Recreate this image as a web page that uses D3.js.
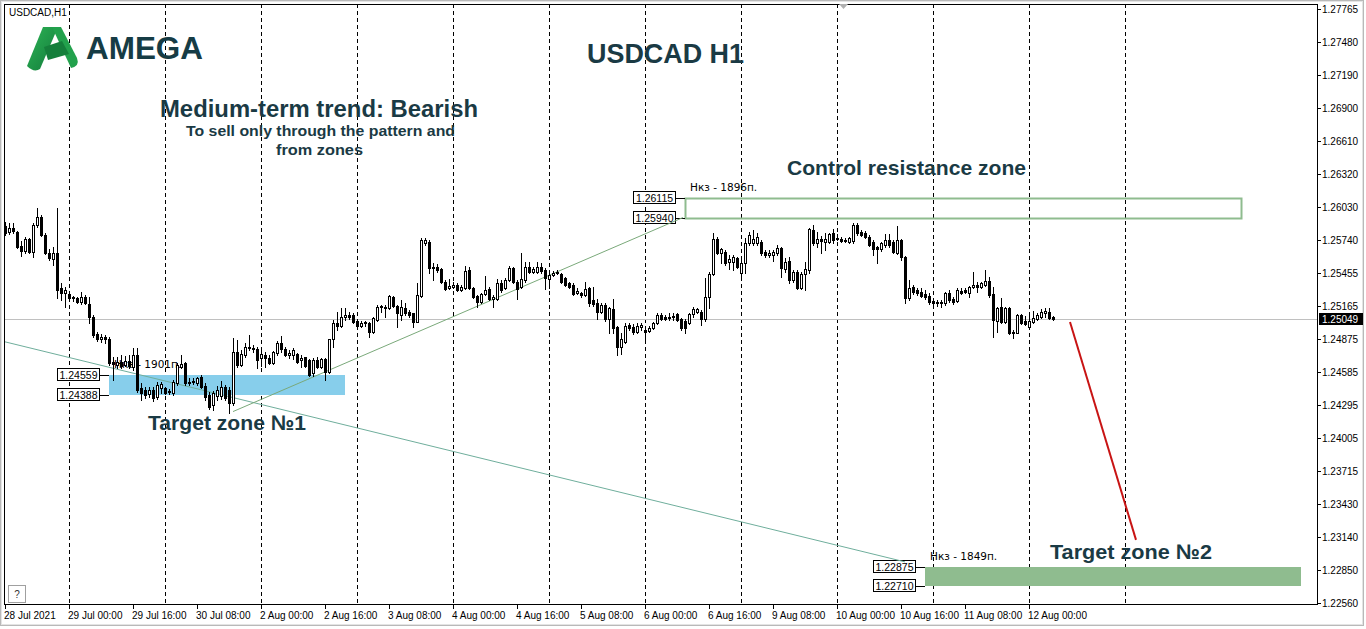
<!DOCTYPE html>
<html><head><meta charset="utf-8">
<script src="https://cdn.jsdelivr.net/npm/d3@7"></script>
<style>
html,body{margin:0;padding:0;background:#fff;}
svg{display:block;}
</style></head>
<body>
<svg id="chart" width="1366" height="629"></svg>
<script>
// ---------------- DATA ----------------
const symbolLabel = "USDCAD,H1";
const days = ["28 Jul","29 Jul","30 Jul","2 Aug","3 Aug","4 Aug","5 Aug","6 Aug","9 Aug","10 Aug","11 Aug","12 Aug"];
const firstHour = 8, lastHour = 6, year = "2021";
const nextDay = "13 Aug";

const open = [
1.25867,1.25814,1.25849,1.25814,1.25692,1.25648,1.25753,1.25639,1.25876,1.25946,
1.25788,1.25630,1.25578,1.25630,1.25324,1.25280,1.25271,1.25236,1.25236,1.25201,
1.25245,1.25183,1.25070,1.24921,1.24877,1.24894,1.24877,1.24675,1.24649,1.24675,
1.24649,1.24684,1.24631,1.24737,1.24447,1.24430,1.24394,1.24430,1.24368,1.24447,
1.24447,1.24412,1.24403,1.24491,1.24631,1.24666,1.24491,1.24500,1.24491,1.24544,
1.24465,1.24386,1.24298,1.24377,1.24377,1.24456,1.24430,1.24316,1.24763,1.24649,
1.24737,1.24807,1.24798,1.24789,1.24710,1.24737,1.24710,1.24666,1.24754,1.24842,
1.24789,1.24737,1.24737,1.24745,1.24693,1.24719,1.24693,1.24579,1.24693,1.24631,
1.24701,1.24587,1.24877,1.25017,1.24991,1.25070,1.25087,1.25087,1.25035,1.24991,
1.25017,1.25017,1.24938,1.25043,1.25157,1.25157,1.25148,1.25245,1.25166,1.25087,
1.25148,1.25113,1.25105,1.25026,1.25254,1.25718,1.25727,1.25499,1.25508,1.25490,
1.25376,1.25324,1.25332,1.25350,1.25306,1.25324,1.25481,1.25324,1.25254,1.25201,
1.25271,1.25315,1.25227,1.25227,1.25367,1.25324,1.25394,1.25499,1.25376,1.25332,
1.25394,1.25508,1.25464,1.25464,1.25508,1.25481,1.25403,1.25438,1.25455,1.25446,
1.25411,1.25367,1.25350,1.25280,1.25280,1.25262,1.25324,1.25219,1.25192,1.25113,
1.25175,1.25052,1.25140,1.24982,1.24807,1.24851,1.25000,1.24982,1.24938,1.24982,
1.24956,1.24947,1.24973,1.25017,1.25087,1.25070,1.25061,1.25070,1.25096,1.25052,
1.25035,1.25017,1.25096,1.25113,1.25113,1.25052,1.25245,1.25446,1.25753,1.25630,
1.25639,1.25551,1.25551,1.25587,1.25455,1.25543,1.25718,1.25718,1.25718,1.25727,
1.25639,1.25613,1.25613,1.25630,1.25674,1.25490,1.25560,1.25394,1.25464,1.25324,
1.25446,1.25481,1.25832,1.25718,1.25753,1.25727,1.25727,1.25806,1.25762,1.25753,
1.25736,1.25727,1.25736,1.25876,1.25814,1.25806,1.25771,1.25727,1.25683,1.25665,
1.25700,1.25744,1.25727,1.25630,1.25744,1.25595,1.25236,1.25332,1.25306,1.25289,
1.25271,1.25254,1.25210,1.25201,1.25201,1.25192,1.25280,1.25227,1.25210,1.25297,
1.25306,1.25280,1.25332,1.25350,1.25332,1.25350,1.25385,1.25271,1.25035,1.25157,
1.25026,1.25148,1.24938,1.24929,1.25087,1.25035,1.24982,1.25026,1.25052,1.25070,
1.25105,1.25113,1.25070];

const high = [
1.25902,1.25893,1.25893,1.25823,1.25736,1.25771,1.25762,1.25893,1.26025,1.25963,
1.25806,1.25665,1.25683,1.26025,1.25367,1.25332,1.25289,1.25254,1.25245,1.25289,
1.25262,1.25245,1.25087,1.24938,1.24921,1.24912,1.24894,1.24719,1.24719,1.24737,
1.24728,1.24737,1.24798,1.24798,1.24491,1.24456,1.24456,1.24456,1.24500,1.24500,
1.24456,1.24438,1.24517,1.24666,1.24737,1.24675,1.24535,1.24535,1.24544,1.24561,
1.24491,1.24412,1.24421,1.24465,1.24508,1.24473,1.24456,1.24886,1.24868,1.24780,
1.24842,1.24912,1.24824,1.24807,1.24780,1.24763,1.24737,1.24772,1.24859,1.24903,
1.24807,1.24780,1.24798,1.24754,1.24737,1.24719,1.24701,1.24710,1.24719,1.24710,
1.24710,1.24877,1.25043,1.25113,1.25148,1.25148,1.25113,1.25105,1.25052,1.25035,
1.25035,1.25026,1.25070,1.25175,1.25175,1.25175,1.25262,1.25254,1.25175,1.25219,
1.25192,1.25131,1.25105,1.25367,1.25762,1.25762,1.25744,1.25543,1.25534,1.25499,
1.25394,1.25403,1.25376,1.25367,1.25350,1.25516,1.25508,1.25332,1.25262,1.25280,
1.25429,1.25332,1.25262,1.25403,1.25394,1.25411,1.25516,1.25508,1.25394,1.25630,
1.25551,1.25551,1.25508,1.25551,1.25543,1.25499,1.25464,1.25473,1.25481,1.25455,
1.25420,1.25376,1.25367,1.25324,1.25289,1.25376,1.25332,1.25332,1.25227,1.25192,
1.25192,1.25157,1.25227,1.24991,1.24929,1.25017,1.25017,1.25008,1.25017,1.25017,
1.24982,1.24991,1.25026,1.25105,1.25105,1.25087,1.25105,1.25105,1.25105,1.25061,
1.25052,1.25105,1.25157,1.25148,1.25131,1.25411,1.25464,1.25806,1.25771,1.25674,
1.25657,1.25613,1.25613,1.25595,1.25569,1.25762,1.25814,1.25832,1.25806,1.25744,
1.25657,1.25657,1.25657,1.25700,1.25683,1.25587,1.25595,1.25481,1.25481,1.25464,
1.25551,1.25849,1.25876,1.25814,1.25779,1.25806,1.25806,1.25841,1.25797,1.25771,
1.25762,1.25771,1.25893,1.25893,1.25832,1.25823,1.25788,1.25744,1.25692,1.25727,
1.25797,1.25797,1.25744,1.25867,1.25753,1.25604,1.25394,1.25350,1.25324,1.25324,
1.25306,1.25280,1.25236,1.25219,1.25219,1.25289,1.25306,1.25245,1.25324,1.25324,
1.25324,1.25341,1.25464,1.25376,1.25376,1.25481,1.25420,1.25332,1.25157,1.25236,
1.25157,1.25157,1.24956,1.25096,1.25096,1.25078,1.25078,1.25122,1.25105,1.25140,
1.25148,1.25148,1.25078];

const low = [
1.25788,1.25797,1.25806,1.25674,1.25604,1.25630,1.25630,1.25595,1.25858,1.25779,
1.25622,1.25569,1.25525,1.25236,1.25219,1.25157,1.25219,1.25210,1.25192,1.25183,
1.25183,1.25017,1.24894,1.24859,1.24851,1.24842,1.24649,1.24517,1.24622,1.24622,
1.24640,1.24622,1.24605,1.24412,1.24342,1.24359,1.24368,1.24333,1.24351,1.24403,
1.24394,1.24394,1.24386,1.24473,1.24622,1.24473,1.24473,1.24482,1.24473,1.24447,
1.24342,1.24263,1.24254,1.24342,1.24351,1.24342,1.24228,1.24298,1.24631,1.24640,
1.24719,1.24780,1.24763,1.24622,1.24640,1.24631,1.24658,1.24658,1.24737,1.24763,
1.24728,1.24710,1.24701,1.24666,1.24631,1.24631,1.24552,1.24552,1.24622,1.24622,
1.24517,1.24579,1.24807,1.24956,1.24982,1.25043,1.25052,1.25017,1.24982,1.24982,
1.24991,1.24894,1.24929,1.25035,1.25113,1.25070,1.25140,1.25157,1.24982,1.25043,
1.25087,1.25070,1.24982,1.25026,1.25245,1.25700,1.25455,1.25394,1.25464,1.25367,
1.25306,1.25315,1.25324,1.25297,1.25297,1.25315,1.25315,1.25236,1.25157,1.25192,
1.25262,1.25219,1.25157,1.25219,1.25289,1.25315,1.25385,1.25367,1.25227,1.25324,
1.25376,1.25455,1.25455,1.25455,1.25455,1.25315,1.25324,1.25429,1.25446,1.25367,
1.25341,1.25324,1.25262,1.25271,1.25245,1.25254,1.25166,1.25166,1.25052,1.25105,
1.25035,1.24929,1.24929,1.24737,1.24745,1.24842,1.24956,1.24921,1.24929,1.24956,
1.24842,1.24938,1.24964,1.25008,1.25043,1.25043,1.25043,1.25043,1.25035,1.24956,
1.24929,1.25008,1.25070,1.25105,1.25000,1.25035,1.25148,1.25438,1.25622,1.25543,
1.25525,1.25490,1.25481,1.25499,1.25429,1.25455,1.25700,1.25700,1.25700,1.25613,
1.25595,1.25595,1.25560,1.25613,1.25420,1.25464,1.25367,1.25376,1.25315,1.25315,
1.25306,1.25455,1.25700,1.25683,1.25630,1.25657,1.25718,1.25718,1.25744,1.25727,
1.25727,1.25718,1.25718,1.25788,1.25779,1.25762,1.25692,1.25613,1.25543,1.25648,
1.25683,1.25683,1.25630,1.25622,1.25569,1.25192,1.25219,1.25271,1.25262,1.25245,
1.25227,1.25183,1.25175,1.25166,1.25157,1.25175,1.25201,1.25183,1.25201,1.25271,
1.25280,1.25245,1.25324,1.25289,1.25324,1.25341,1.25245,1.24894,1.24938,1.25017,
1.25017,1.24921,1.24886,1.24929,1.25008,1.25000,1.24982,1.25017,1.25043,1.25061,
1.25070,1.25052,1.25043];

const close = [
1.25806,1.25849,1.25823,1.25683,1.25648,1.25753,1.25639,1.25876,1.25946,1.25788,
1.25630,1.25587,1.25630,1.25306,1.25280,1.25306,1.25236,1.25245,1.25201,1.25245,
1.25192,1.25070,1.24912,1.24877,1.24894,1.24877,1.24666,1.24658,1.24675,1.24640,
1.24684,1.24640,1.24737,1.24430,1.24403,1.24386,1.24430,1.24359,1.24473,1.24482,
1.24403,1.24421,1.24500,1.24649,1.24658,1.24491,1.24500,1.24508,1.24535,1.24456,
1.24368,1.24281,1.24403,1.24430,1.24456,1.24359,1.24316,1.24763,1.24649,1.24745,
1.24807,1.24798,1.24789,1.24693,1.24745,1.24710,1.24666,1.24763,1.24842,1.24789,
1.24737,1.24754,1.24780,1.24675,1.24710,1.24640,1.24561,1.24693,1.24631,1.24701,
1.24587,1.24877,1.25017,1.24991,1.25070,1.25087,1.25070,1.25026,1.24991,1.25017,
1.25026,1.24938,1.25061,1.25157,1.25166,1.25148,1.25254,1.25166,1.25105,1.25157,
1.25105,1.25087,1.25026,1.25262,1.25744,1.25744,1.25499,1.25508,1.25481,1.25376,
1.25315,1.25341,1.25350,1.25306,1.25332,1.25473,1.25324,1.25245,1.25201,1.25271,
1.25306,1.25227,1.25245,1.25367,1.25306,1.25394,1.25499,1.25376,1.25315,1.25403,
1.25508,1.25464,1.25490,1.25508,1.25473,1.25411,1.25438,1.25455,1.25464,1.25376,
1.25350,1.25332,1.25271,1.25297,1.25262,1.25315,1.25192,1.25183,1.25113,1.25175,
1.25052,1.25148,1.24973,1.24807,1.24877,1.24991,1.24973,1.24938,1.24991,1.25000,
1.24938,1.24973,1.25017,1.25087,1.25052,1.25052,1.25070,1.25078,1.25043,1.24973,
1.24973,1.25096,1.25140,1.25140,1.25052,1.25245,1.25446,1.25753,1.25630,1.25665,
1.25543,1.25578,1.25595,1.25508,1.25543,1.25718,1.25788,1.25753,1.25771,1.25630,
1.25613,1.25630,1.25639,1.25674,1.25499,1.25551,1.25394,1.25464,1.25324,1.25446,
1.25490,1.25841,1.25718,1.25753,1.25736,1.25753,1.25797,1.25744,1.25753,1.25736,
1.25744,1.25762,1.25876,1.25806,1.25788,1.25771,1.25700,1.25665,1.25665,1.25718,
1.25744,1.25700,1.25639,1.25744,1.25595,1.25236,1.25324,1.25289,1.25280,1.25254,
1.25245,1.25201,1.25192,1.25192,1.25192,1.25280,1.25219,1.25201,1.25306,1.25280,
1.25289,1.25332,1.25350,1.25332,1.25367,1.25385,1.25262,1.25043,1.25148,1.25026,
1.25148,1.24929,1.24929,1.25087,1.25017,1.25008,1.25035,1.25061,1.25087,1.25113,
1.25122,1.25061,1.25049];

const priceTicks = [1.27765,1.27480,1.27190,1.26900,1.26610,1.26320,1.26030,1.25740,1.25455,1.25165,
  1.24875,1.24585,1.24295,1.24005,1.23715,1.23430,1.23140,1.22850,1.22560];
const lastPrice = 1.25049;

// zones: [top price, bottom price, first bar, last bar, label]
const zoneTarget1 = [1.24559, 1.24388, 26, 85, "Нкз - 1901п."];
const zoneResist  = [1.26115, 1.25940, 170, 309, "Нкз - 1896п."];
const zoneTarget2 = [1.22875, 1.22710, 230, 324, "Нкз - 1849п."];

// trend lines: [bar, price] pairs
const lineDown   = [[0, 1.24851], [225, 1.22923]];
const lineUp     = [[57, 1.24240], [169.5, 1.25940]];
const lineTarget = [[266.25, 1.25025], [282.75, 1.23116]];

const texts = {
  title: "USDCAD H1",
  trend: "Medium-term trend: Bearish",
  sub1: "To sell only through the pattern and",
  sub2: "from zones",
  resist: "Control resistance zone",
  t1: "Target zone №1",
  t2: "Target zone №2",
  brand: "AMEGA"
};

// ---------------- BUILD ----------------
const bars = [];
days.forEach((d, di) => {
  const h0 = di === 0 ? firstHour : 0;
  const h1 = di === days.length - 1 ? lastHour : 23;
  for (let h = h0; h <= h1; h++) bars.push({day: d, hour: h});
});
const N = bars.length;
const data = bars.map((b, i) => ({i, ...b, o: open[i], h: high[i], l: low[i], c: close[i]}));

const P = {l: 4, t: 4, r: 1317, b: 604};
const x = d3.scaleLinear().domain([0, 328]).range([5, 1317]);
const y = d3.scaleLinear().domain([1.22554, 1.27811]).range([604, 4]);
const px = v => Math.round(x(v));
const py = v => Math.round(y(v));

const svg = d3.select("#chart");
const FONT = "'Liberation Sans', Arial, sans-serif";
const SMALL = "'DejaVu Sans', Tahoma, sans-serif";
const TXT = "#1a3a44";

// outer window frame
svg.append("rect").attr("x", 0.5).attr("y", 0.5).attr("width", 1363).attr("height", 625)
  .attr("fill", "#fff").attr("stroke", "#b9b9b9");
svg.append("rect").attr("x", 1.5).attr("y", 1.5).attr("width", 1361).attr("height", 623)
  .attr("fill", "none").attr("stroke", "#e4e4e4");

const plot = svg.append("g");

// day separators
const sepBars = data.filter(d => d.hour === 0).map(d => d.i);
sepBars.push(d3.max(sepBars) + 24); // start of nextDay
plot.selectAll("line.sep").data(sepBars).join("line")
  .attr("x1", d => px(d) + 0.5).attr("x2", d => px(d) + 0.5)
  .attr("y1", P.t).attr("y2", P.b)
  .attr("stroke", "#000").attr("stroke-width", 1).attr("stroke-dasharray", "4,3");

// zones
const zg = plot.append("g");
function zoneBox(z, filled, color) {
  const x0 = px(z[2]), x1 = px(z[3]);
  const y0 = py(z[0]), y1 = py(z[1]);
  if (filled) {
    zg.append("rect").attr("x", x0).attr("y", y0).attr("width", x1 - x0).attr("height", y1 - y0)
      .attr("fill", color);
  } else {
    zg.append("rect").attr("x", x0 + 0.5).attr("y", y0 + 0.5).attr("width", x1 - x0).attr("height", y1 - y0)
      .attr("fill", "none").attr("stroke", color).attr("stroke-width", 2);
  }
  [z[0], z[1]].forEach(p => {
    const yy = py(p);
    const bx = x0 - 52;
    zg.append("line").attr("x1", bx + 42).attr("x2", x0).attr("y1", yy + 0.5).attr("y2", yy + 0.5)
      .attr("stroke", "#000");
    zg.append("rect").attr("x", bx + 0.5).attr("y", yy - 6.5).attr("width", 42).attr("height", 12)
      .attr("fill", "#fff").attr("stroke", "#000");
    zg.append("text").attr("x", bx + 21.5).attr("y", yy + 4).attr("text-anchor", "middle")
      .attr("font-family", FONT).attr("font-size", 10.5).attr("fill", "#000")
      .text(p.toFixed(5));
  });
  zg.append("text").attr("x", x0 + 5).attr("y", y0 - 7)
    .attr("font-family", SMALL).attr("font-size", 10.5).attr("fill", "#000").text(z[4]);
}
zoneBox(zoneTarget1, true, "#87ceeb");
zoneBox(zoneResist, false, "#8fbc8f");
zoneBox(zoneTarget2, true, "#8fbc8f");

// current price line
plot.append("line").attr("x1", P.l).attr("x2", P.r).attr("y1", py(lastPrice) + 0.5).attr("y2", py(lastPrice) + 0.5)
  .attr("stroke", "#c0c0c0");

// trend lines
const lineGen = d3.line().x(d => x(d[0])).y(d => y(d[1]));
plot.append("path").attr("d", lineGen(lineDown)).attr("fill", "none").attr("stroke", "#6fae9c").attr("stroke-width", 1);
plot.append("path").attr("d", lineGen(lineUp)).attr("fill", "none").attr("stroke", "#7aa97a").attr("stroke-width", 1);

// candles
const cg = plot.append("g");
data.forEach(d => {
  const xc = px(d.i);
  const yh = py(d.h), yl = py(d.l);
  cg.append("line").attr("x1", xc + 0.5).attr("x2", xc + 0.5).attr("y1", yh).attr("y2", yl + 1)
    .attr("stroke", "#000");
  const yo = py(d.o), yc = py(d.c);
  const top = Math.min(yo, yc), bot = Math.max(yo, yc);
  if (d.c >= d.o) {
    if (bot - top < 1) {
      cg.append("rect").attr("x", xc - 1).attr("y", top).attr("width", 3).attr("height", 1).attr("fill", "#000");
    } else {
      cg.append("rect").attr("x", xc - 0.5).attr("y", top + 0.5).attr("width", 2).attr("height", bot - top)
        .attr("fill", "#fff").attr("stroke", "#000");
    }
  } else {
    cg.append("rect").attr("x", xc - 1).attr("y", top).attr("width", 3).attr("height", Math.max(bot - top + 1, 1))
      .attr("fill", "#000");
  }
});

// red target line
plot.append("path").attr("d", lineGen(lineTarget)).attr("fill", "none").attr("stroke", "#c81414").attr("stroke-width", 2);

// plot border
svg.append("rect").attr("x", P.l + 0.5).attr("y", P.t + 0.5).attr("width", P.r - P.l).attr("height", P.b - P.t)
  .attr("fill", "none").attr("stroke", "#000");

// chart shift marker
svg.append("path").attr("d", "M839,4 L848,4 L843.5,9 Z").attr("fill", "#b0b0b0");

// y axis
const ya = svg.append("g");
priceTicks.forEach(p => {
  const yy = py(p);
  ya.append("line").attr("x1", P.r).attr("x2", P.r + 4).attr("y1", yy + 0.5).attr("y2", yy + 0.5).attr("stroke", "#000");
  ya.append("text").attr("x", P.r + 5).attr("y", yy + 4).attr("font-family", FONT).attr("font-size", 10)
    .attr("fill", "#000").text(p.toFixed(5));
});
const ylast = py(lastPrice);
ya.append("rect").attr("x", P.r + 2).attr("y", ylast - 6).attr("width", 44).attr("height", 12).attr("fill", "#000");
ya.append("text").attr("x", P.r + 5).attr("y", ylast + 4).attr("font-family", FONT).attr("font-size", 10)
  .attr("fill", "#fff").text(lastPrice.toFixed(5));

// x axis
const xa = svg.append("g");
const pad2 = n => (n < 10 ? "0" : "") + n;
d3.range(0, N, 16).forEach(i => {
  const b = bars[i];
  const xx = px(i);
  const lbl = i === 0 ? b.day + " " + year : b.day + " " + pad2(b.hour) + ":00";
  xa.append("line").attr("x1", xx + 0.5).attr("x2", xx + 0.5).attr("y1", P.b).attr("y2", P.b + 5).attr("stroke", "#000");
  xa.append("text").attr("x", xx - 1).attr("y", P.b + 15).attr("font-family", FONT).attr("font-size", 10)
    .attr("fill", "#000").text(lbl);
});

// symbol label
svg.append("text").attr("x", 9).attr("y", 16).attr("font-family", FONT).attr("font-size", 10).attr("fill", "#000")
  .text(symbolLabel);

// help box
svg.append("rect").attr("x", 8.5).attr("y", 585.5).attr("width", 17).attr("height", 17)
  .attr("fill", "#fff").attr("stroke", "#a0a0a0");
svg.append("text").attr("x", 17).attr("y", 598).attr("text-anchor", "middle").attr("font-family", FONT)
  .attr("font-size", 10).attr("fill", "#333").text("?");

// logo
const lg = svg.append("g");
const grad = svg.append("defs").append("linearGradient").attr("id", "lgA").attr("x1", "0").attr("y1", "0").attr("x2", "1").attr("y2", "1");
grad.append("stop").attr("offset", "0").attr("stop-color", "#2db556");
grad.append("stop").attr("offset", "1").attr("stop-color", "#12793a");
lg.append("path").attr("d", "M43,27 L58,27 L40,69 Q34,73 27,66 Z").attr("fill", "url(#lgA)");
lg.append("path").attr("d", "M52,27 L61,27 L77,58 Q80,66 71,68 Z").attr("fill", "#22a14c");
lg.append("path").attr("d", "M44,47 L62,41 L69,54 L48,60 Z").attr("fill", "#157f3b");
lg.append("text").attr("x", 86).attr("y", 59).attr("font-family", FONT).attr("font-weight", "bold")
  .attr("font-size", 31).attr("fill", "#163c45").attr("textLength", 117).attr("lengthAdjust", "spacingAndGlyphs")
  .text(texts.brand);

// annotation texts
function label(t, cx, by, size, width, anchor) {
  svg.append("text").attr("x", cx).attr("y", by).attr("text-anchor", anchor || "middle")
    .attr("font-family", FONT).attr("font-weight", "bold").attr("font-size", size).attr("fill", TXT)
    .attr("textLength", width).attr("lengthAdjust", "spacingAndGlyphs").text(t);
}
label(texts.title, 665.5, 63, 27, 157);
label(texts.trend, 319, 117, 24, 318);
label(texts.sub1, 320.5, 136, 15, 269);
label(texts.sub2, 319.5, 155, 15, 87);
label(texts.resist, 906.5, 175, 21, 239);
label(texts.t1, 148, 430, 21, 158, "start");
label(texts.t2, 1050, 559, 21, 162, "start");
</script>
</body></html>
